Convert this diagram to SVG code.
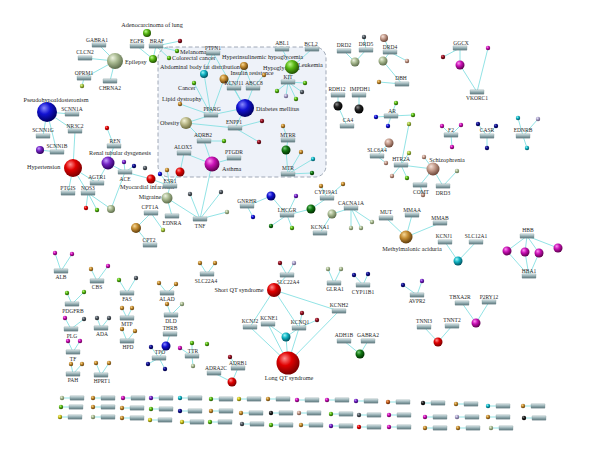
<svg xmlns="http://www.w3.org/2000/svg" xmlns:xlink="http://www.w3.org/1999/xlink" width="600" height="460" viewBox="0 0 600 460">
<style>
.l{stroke:#86e0e2;stroke-width:.9;fill:none}
.t{font-family:"Liberation Serif","Times New Roman",serif;font-size:5.5px;fill:#262626;text-anchor:middle}
.d{font-size:6.2px}
.s{text-anchor:start}
.red{fill:url(#gRed)}.blue{fill:url(#gBlue)}.navy{fill:url(#gNavy)}.green{fill:url(#gGreen)}.sage{fill:url(#gSage)}.olive{fill:url(#gOlive)}.tan{fill:url(#gTan)}.mag{fill:url(#gMag)}.pur{fill:url(#gPur)}.cyan{fill:url(#gCyan)}.dg{fill:url(#gDg)}.blk{fill:url(#gBlk)}.dr{fill:url(#gDr)}.lav{fill:url(#gLav)}.rosy{fill:url(#gRosy)}.yel{fill:url(#gYel)}.dkg{fill:url(#gDkg)}.yg{fill:url(#gYg)}.org{fill:url(#gOrg)}
</style>
<defs>
<linearGradient id="gb" x1="0" y1="0" x2="0" y2="1"><stop offset="0" stop-color="#dce8ea"/><stop offset=".5" stop-color="#92abb0"/><stop offset="1" stop-color="#5e797e"/></linearGradient>
<rect id="b" x="-7" y="-2.2" width="14" height="4.4" rx=".5" fill="url(#gb)" stroke="#6d878b" stroke-width=".3"/>
<radialGradient id="gRed" cx=".4" cy=".35" r=".65" fx=".35" fy=".3"><stop offset="0" stop-color="#ff9090"/><stop offset=".45" stop-color="#e00000"/><stop offset="1" stop-color="#7a0000"/></radialGradient>
<radialGradient id="gBlue" cx=".4" cy=".35" r=".65" fx=".35" fy=".3"><stop offset="0" stop-color="#8a8aff"/><stop offset=".45" stop-color="#1212d2"/><stop offset="1" stop-color="#000060"/></radialGradient>
<radialGradient id="gNavy" cx=".4" cy=".35" r=".65" fx=".35" fy=".3"><stop offset="0" stop-color="#6a6acc"/><stop offset=".45" stop-color="#10108e"/><stop offset="1" stop-color="#000040"/></radialGradient>
<radialGradient id="gGreen" cx=".4" cy=".35" r=".65" fx=".35" fy=".3"><stop offset="0" stop-color="#c0f890"/><stop offset=".45" stop-color="#58b814"/><stop offset="1" stop-color="#205000"/></radialGradient>
<radialGradient id="gSage" cx=".4" cy=".35" r=".65" fx=".35" fy=".3"><stop offset="0" stop-color="#eef4e2"/><stop offset=".45" stop-color="#aabb92"/><stop offset="1" stop-color="#5e6e4c"/></radialGradient>
<radialGradient id="gOlive" cx=".4" cy=".35" r=".65" fx=".35" fy=".3"><stop offset="0" stop-color="#f6f4d8"/><stop offset=".45" stop-color="#bcba8a"/><stop offset="1" stop-color="#6e6c3e"/></radialGradient>
<radialGradient id="gTan" cx=".4" cy=".35" r=".65" fx=".35" fy=".3"><stop offset="0" stop-color="#f6d898"/><stop offset=".45" stop-color="#c48c30"/><stop offset="1" stop-color="#5e3c0c"/></radialGradient>
<radialGradient id="gMag" cx=".4" cy=".35" r=".65" fx=".35" fy=".3"><stop offset="0" stop-color="#ff90f2"/><stop offset=".45" stop-color="#c810b4"/><stop offset="1" stop-color="#5e004e"/></radialGradient>
<radialGradient id="gPur" cx=".4" cy=".35" r=".65" fx=".35" fy=".3"><stop offset="0" stop-color="#c8a0ff"/><stop offset=".45" stop-color="#7424c4"/><stop offset="1" stop-color="#2e005e"/></radialGradient>
<radialGradient id="gCyan" cx=".4" cy=".35" r=".65" fx=".35" fy=".3"><stop offset="0" stop-color="#a0f6f6"/><stop offset=".45" stop-color="#12b4c4"/><stop offset="1" stop-color="#00505e"/></radialGradient>
<radialGradient id="gDg" cx=".4" cy=".35" r=".65" fx=".35" fy=".3"><stop offset="0" stop-color="#b0b8c0"/><stop offset=".45" stop-color="#545c64"/><stop offset="1" stop-color="#1e2226"/></radialGradient>
<radialGradient id="gBlk" cx=".4" cy=".35" r=".65" fx=".35" fy=".3"><stop offset="0" stop-color="#909090"/><stop offset=".45" stop-color="#222"/><stop offset="1" stop-color="#000"/></radialGradient>
<radialGradient id="gDr" cx=".4" cy=".35" r=".65" fx=".35" fy=".3"><stop offset="0" stop-color="#d87080"/><stop offset=".45" stop-color="#961424"/><stop offset="1" stop-color="#3e0008"/></radialGradient>
<radialGradient id="gLav" cx=".4" cy=".35" r=".65" fx=".35" fy=".3"><stop offset="0" stop-color="#f0ecfa"/><stop offset=".45" stop-color="#aca4cc"/><stop offset="1" stop-color="#5c5478"/></radialGradient>
<radialGradient id="gRosy" cx=".4" cy=".35" r=".65" fx=".35" fy=".3"><stop offset="0" stop-color="#f6e2da"/><stop offset=".45" stop-color="#c49c8c"/><stop offset="1" stop-color="#6c4638"/></radialGradient>
<radialGradient id="gYel" cx=".4" cy=".35" r=".65" fx=".35" fy=".3"><stop offset="0" stop-color="#fcf490"/><stop offset=".45" stop-color="#ccc420"/><stop offset="1" stop-color="#5e5a00"/></radialGradient>
<radialGradient id="gDkg" cx=".4" cy=".35" r=".65" fx=".35" fy=".3"><stop offset="0" stop-color="#7ccc7c"/><stop offset=".45" stop-color="#127612"/><stop offset="1" stop-color="#002e00"/></radialGradient>
<radialGradient id="gYg" cx=".4" cy=".35" r=".65" fx=".35" fy=".3"><stop offset="0" stop-color="#e6f4a0"/><stop offset=".45" stop-color="#a4c444"/><stop offset="1" stop-color="#4e600e"/></radialGradient>
<radialGradient id="gOrg" cx=".4" cy=".35" r=".65" fx=".35" fy=".3"><stop offset="0" stop-color="#f4ac70"/><stop offset=".45" stop-color="#c46424"/><stop offset="1" stop-color="#5e2000"/></radialGradient>
</defs>
<rect width="600" height="460" fill="#fff"/>
<rect id="module" x="158" y="47" width="168" height="130" rx="11" fill="#eef2f9" stroke="#8a96a6" stroke-width=".8" stroke-dasharray="4 2.5"/>

<g id="connectors" class="l">
<path d="M115 61L99 45M115 61L85 58M115 61L84 78M115 61L110 81M84 78L82 86"/>
<path d="M137 46L153 59M156 46L153 59M156 46L180 41M156 46L177 51M156 46L169 58"/>
<path d="M211 115L204 74M211 115L194 83M211 115L180 104M211 115L186 123M211 115L245 108M211 115L224 79M213 53L204 74M213 53L245 108"/>
<path d="M234 88L244 66M234 88L245 108M234 88L224 79M253 88L244 66M253 88L245 108M253 88L264 75"/>
<path d="M292 67L282 49M292 67L312 49M292 67L288 82M288 82L305 83M288 82L302 92M288 82L296 99M288 82L286 96M288 82L277 91"/>
<path d="M235 128L245 108M235 128L186 123M235 128L262 121M235 128L259 142M204 141L186 123M204 141L212 164M204 141L224 141M234 158L212 164M184 153L212 164M184 153L180 172"/>
<path d="M288 140L283 126M288 140L286 150M288 174L286 150M288 174L301 152M288 174L313 159M288 174L312 173"/>
<path d="M212 164L200 219"/>
<path d="M47 112L71 114M47 112L43 136M47 112L57 152M47 112L75 131M57 152L40 150M75 131L73 168M73 168L68 193M73 168L88 193M73 168L97 183M97 183L108 163M114 146L108 163M114 146L107 128"/>
<path d="M125 172L108 163M125 172L111 209M125 172L151 179M125 172L124 162M125 172L134 166M88 193L86 208M88 193L97 210M88 193L111 209"/>
<path d="M170 186L151 179M170 186L160 174M170 186L167 170M170 186L180 172M170 186L167 198M167 198L200 219M167 198L172 216M200 219L190 194M200 219L221 192M200 219L227 212M151 213L136 228M151 213L163 230M150 245L136 228"/>
<path d="M247 206L271 196M247 206L253 217M287 215L271 196M287 215L296 196M287 215L311 209M287 215L271 226M287 215L292 228M327 198L311 209M327 198L321 186M327 198L343 184"/>
<path d="M351 208L332 214M351 208L372 222M351 208L351 228M351 208L361 228M320 233L332 214M386 218L406 237M412 215L406 237M440 223L406 237M445 242L458 261M476 242L458 261"/>
<path d="M527 236L507 251M527 236L525 252M527 236L539 253M527 236L558 248M529 276L507 251M529 276L525 252M529 276L539 253"/>
<path d="M417 295L403 285M417 295L422 281M462 303L476 323M489 302L476 323M424 327L438 342M452 326L438 342"/>
<path d="M344 51L355 62M366 50L355 62M366 50L364 37M390 52L384 38M390 52L383 61M390 52L407 61M402 84L383 61M402 84L379 82M338 95L338 106M359 95L359 109M347 126L338 106M391 116L396 103M391 116L376 117M391 116L388 126M391 116L413 115"/>
<path d="M377 156L389 143M377 156L386 163M401 165L409 153M401 165L409 124M401 165L392 176M401 165L407 178M401 165L433 169M433 169L420 185M433 169L443 186M433 169L424 157M443 186L457 171M420 185L423 195"/>
<path d="M451 135L442 126M451 135L461 125M451 135L452 147M487 136L478 124M487 136L496 126M487 136L487 148M523 136L518 118M523 136L538 119M523 136L527 148"/>
<path d="M460 48L443 57M460 48L460 65M477 92L460 65M477 92L488 48"/>
<path d="M61 271L55 253M61 271L72 254M97 281L91 269M97 281L108 266M127 293L119 280M127 293L136 278M167 293L159 283M167 293L176 284M72 304L67 293M72 304L84 292M127 318L122 308M127 318L132 308M171 315L167 304M171 315L182 304M101 328L97 318M101 328L109 318M71 329L65 318M71 329L84 319M127 341L122 329M127 341L135 331M73 352L68 341M73 352L80 341M73 374L71 364M73 374L82 364M101 375L96 363M101 375L109 363"/>
<path d="M170 334L166 346M159 358L166 346M159 358L151 347M159 358L148 364M159 358L165 369M192 356L180 348M192 356L193 366M192 356L192 343"/>
<path d="M207 274L200 263M207 274L215 263M287 275L280 263M287 275L294 263M287 275L274 290M274 290L250 327M274 290L299 328M274 290L339 311M334 283L328 269M334 283L341 269M363 285L354 275M363 285L368 274M299 328L302 313M299 328L317 320"/>
<path d="M288 363L250 327M288 363L268 324M288 363L299 328M288 363L339 311M288 363L286 337M268 324L286 337M299 328L286 337M344 341L360 354M368 341L360 354M214 373L232 382M238 368L232 382M238 368L230 357"/>
<path d="M62 398H77M93 398H108M123 398H138M151 398H166M180 398H195M211 399H226M239 399H254M268 399H283M297 400H312M327 400H342M356 401H371M388 402H403M423 403H438M456 404H471M488 406H503M523 406H538"/>
<path d="M61 407H76M93 407H108M122 408H137M151 409H166M180 411H195M211 411H226M241 413H256M271 413H286M299 413H314M331 414H346M359 415H374M389 415H404M425 417H440M457 417H472M488 417H503M524 418H539"/>
<path d="M60 417H75M93 417H108M122 418H137M150 420H165M182 422H197M210 422H225M242 424H257M271 425H286M301 425H316M331 426H346M359 427H374M389 427H404M425 428H440M458 428H473M491 428H506"/>
</g>

<g id="diseases">
<g id="n-adeno"><circle class="green" cx="147" cy="33" r="4"/><text class="t d" x="152" y="27">Adenocarcinoma of lung</text></g>
<g id="n-melanoma"><circle class="green" cx="177" cy="51" r="2.2"/><text class="t d s" x="180" y="54">Melanoma</text></g>
<g id="n-colorectal"><circle class="green" cx="169" cy="58" r="2.2"/><text class="t d s" x="172" y="60">Colorectal cancer</text></g>
<g id="n-epilepsy"><circle class="sage" cx="115" cy="61" r="8"/><text class="t d s" x="125" y="64">Epilepsy</text></g>
<g id="n-egfrdis"><circle class="green" cx="153" cy="59" r="4"/></g>
<g id="n-abdominal"><circle class="cyan" cx="204" cy="74" r="4"/><text class="t d s" x="160" y="69">Abdominal body fat distribution</text></g>
<g id="n-hyperins"><circle class="tan" cx="244" cy="66" r="4"/><text class="t d s" x="222" y="59">Hyperinsulinemic hypoglycemia</text></g>
<g id="n-insres"><circle class="tan" cx="224" cy="79" r="4.5"/><text class="t d" x="252" y="75">Insulin resistance</text></g>
<g id="n-hypogly"><circle class="tan" cx="264" cy="75" r="2.2"/><text class="t d s" x="263" y="70">Hypoglycemia</text></g>
<g id="n-leukemia"><circle class="green" cx="292" cy="67" r="7"/><text class="t d s" x="298" y="67">Leukemia</text></g>
<g id="n-cancer"><circle class="green" cx="194" cy="83" r="2.2"/><text class="t d s" x="178" y="90">Cancer</text></g>
<g id="n-lipid"><circle class="tan" cx="180" cy="104" r="2.2"/><text class="t d s" x="162" y="101">Lipid dystrophy</text></g>
<g id="n-obesity"><circle class="olive" cx="186" cy="123" r="6"/><text class="t d s" x="160" y="125">Obesity</text></g>
<g id="n-diabetes"><circle class="blue" cx="245" cy="108" r="9"/><text class="t d s" x="256" y="111">Diabetes mellitus</text></g>
<g id="n-asthma"><circle class="mag" cx="212" cy="164" r="7.5"/><text class="t d s" x="222" y="171">Asthma</text></g>
<g id="n-pseudo"><circle class="blue" cx="47" cy="112" r="10"/><text class="t d" x="56" y="102">Pseudohypoaldosteronism</text></g>
<g id="n-hypertension"><circle class="red" cx="73" cy="168" r="9"/><text class="t d s" x="27" y="169">Hypertension</text></g>
<g id="n-renal"><circle class="pur" cx="108" cy="163" r="6.5"/><text class="t d" x="120" y="155">Renal tubular dysgenesis</text></g>
<g id="n-mi"><circle class="red" cx="151" cy="179" r="4.5"/><text class="t d" x="147" y="189">Myocardial infarction</text></g>
<g id="n-migraine"><circle class="sage" cx="167" cy="198" r="5.5"/><text class="t d" x="150" y="199">Migraine</text></g>
<g id="n-schizo"><circle class="rosy" cx="433" cy="169" r="6.5"/><text class="t d" x="447" y="162">Schizophrenia</text></g>
<g id="n-mma"><circle class="tan" cx="406" cy="237" r="6.5"/><text class="t d" x="412" y="251">Methylmalonic aciduria</text></g>
<g id="n-sqt"><circle class="red" cx="274" cy="290" r="7"/><text class="t d" x="239" y="292">Short QT syndrome</text></g>
<g id="n-lqt"><circle class="red" cx="288" cy="363" r="11.5"/><text class="t d" x="289" y="380">Long QT syndrome</text></g>
</g>

<g id="spheres">
<circle id="s1" class="tan" cx="136" cy="228" r="5"/>
<circle id="s2" class="sage" cx="111" cy="209" r="4"/>
<circle id="s3" class="dkg" cx="286" cy="150" r="4.5"/>
<circle id="s4" class="blue" cx="271" cy="196" r="4.5"/>
<circle id="s5" class="dkg" cx="311" cy="209" r="4.5"/>
<circle id="s6" class="sage" cx="332" cy="214" r="4.5"/>
<circle id="s7" class="sage" cx="355" cy="62" r="4.5"/>
<circle id="s8" class="sage" cx="383" cy="61" r="4.5"/>
<circle id="s9" class="rosy" cx="384" cy="38" r="4"/>
<circle id="s10" class="blk" cx="338" cy="106" r="4.5"/>
<circle id="s11" class="blk" cx="359" cy="109" r="4.5"/>
<circle id="s12" class="rosy" cx="389" cy="143" r="4.5"/>
<circle id="s13" class="mag" cx="460" cy="65" r="4.5"/>
<circle id="s14" class="cyan" cx="458" cy="261" r="4.5"/>
<circle id="s15" class="mag" cx="507" cy="251" r="4.5"/>
<circle id="s16" class="mag" cx="525" cy="252" r="4.5"/>
<circle id="s17" class="mag" cx="539" cy="253" r="4.5"/>
<circle id="s18" class="mag" cx="558" cy="248" r="4.5"/>
<circle id="s19" class="mag" cx="476" cy="323" r="4.5"/>
<circle id="s20" class="red" cx="438" cy="342" r="4.5"/>
<circle id="s21" class="red" cx="180" cy="172" r="4.5"/>
<circle id="s22" class="red" cx="232" cy="382" r="4.5"/>
<circle id="s23" class="cyan" cx="286" cy="337" r="4.5"/>
<circle id="s24" class="dkg" cx="360" cy="354" r="4.5"/>
<circle id="s25" class="blue" cx="166" cy="346" r="4.5"/>
<circle id="s26" class="pur" cx="40" cy="150" r="4"/>
</g>

<g id="dots">
<circle class="dr" cx="180" cy="41" r="2.2"/>
<circle class="yg" cx="82" cy="86" r="2.2"/>
<circle class="green" cx="305" cy="83" r="2.2"/><circle class="dg" cx="302" cy="92" r="2.2"/><circle class="green" cx="296" cy="99" r="2.2"/><circle class="lav" cx="286" cy="96" r="2.2"/><circle class="green" cx="277" cy="91" r="2.2"/>
<circle class="dr" cx="262" cy="121" r="2.2"/><circle class="dr" cx="259" cy="142" r="2.2"/><circle class="green" cx="224" cy="141" r="2.2"/>
<circle class="tan" cx="283" cy="126" r="2.2"/><circle class="tan" cx="301" cy="152" r="2.2"/><circle class="cyan" cx="313" cy="159" r="2.2"/><circle class="dkg" cx="312" cy="173" r="2.2"/>
<circle class="red" cx="107" cy="128" r="2.2"/><circle class="pur" cx="124" cy="162" r="2.2"/><circle class="navy" cx="134" cy="166" r="2.2"/><circle class="dg" cx="145" cy="168" r="2.2"/>
<circle class="red" cx="86" cy="208" r="2.2"/><circle class="green" cx="97" cy="210" r="2.2"/>
<circle class="blue" cx="160" cy="174" r="2.2"/><circle class="tan" cx="167" cy="170" r="2.2"/>
<circle class="dg" cx="190" cy="194" r="2.2"/><circle class="dg" cx="221" cy="192" r="2.2"/><circle class="sage" cx="227" cy="212" r="2.2"/><circle class="yg" cx="163" cy="230" r="2.2"/>
<circle class="blue" cx="253" cy="217" r="2.2"/><circle class="pur" cx="296" cy="196" r="2.2"/><circle class="dkg" cx="271" cy="226" r="2.2"/><circle class="green" cx="292" cy="228" r="2.2"/>
<circle class="tan" cx="321" cy="186" r="2.2"/><circle class="tan" cx="343" cy="184" r="2.2"/>
<circle class="sage" cx="372" cy="222" r="2.2"/><circle class="sage" cx="351" cy="228" r="2.2"/><circle class="sage" cx="361" cy="228" r="2.2"/>
<circle class="dg" cx="364" cy="37" r="2.2"/><circle class="rosy" cx="407" cy="61" r="2.2"/><circle class="tan" cx="379" cy="82" r="2.2"/>
<circle class="green" cx="396" cy="103" r="2.2"/><circle class="blue" cx="376" cy="117" r="2.2"/><circle class="blue" cx="388" cy="126" r="2.2"/><circle class="green" cx="413" cy="115" r="2.2"/>
<circle class="rosy" cx="386" cy="163" r="2.2"/><circle class="yg" cx="409" cy="153" r="2.2"/><circle class="yg" cx="409" cy="124" r="2.2"/><circle class="rosy" cx="392" cy="176" r="2.2"/><circle class="green" cx="407" cy="178" r="2.2"/><circle class="rosy" cx="424" cy="157" r="2.2"/><circle class="sage" cx="457" cy="171" r="2.2"/><circle class="rosy" cx="423" cy="195" r="2.2"/>
<circle class="mag" cx="442" cy="126" r="2.2"/><circle class="mag" cx="461" cy="125" r="2.2"/><circle class="mag" cx="452" cy="147" r="2.2"/>
<circle class="navy" cx="478" cy="124" r="2.2"/><circle class="navy" cx="496" cy="126" r="2.2"/><circle class="navy" cx="487" cy="148" r="2.2"/>
<circle class="cyan" cx="518" cy="118" r="2.2"/><circle class="lav" cx="538" cy="119" r="2.2"/><circle class="cyan" cx="527" cy="148" r="2.2"/>
<circle class="dr" cx="443" cy="57" r="2.2"/><circle class="mag" cx="488" cy="48" r="2.2"/>
<circle class="navy" cx="403" cy="285" r="2.2"/><circle class="pur" cx="422" cy="281" r="2.2"/>
<circle class="mag" cx="55" cy="253" r="2.2"/><circle class="mag" cx="72" cy="254" r="2.2"/>
<circle class="tan" cx="91" cy="269" r="2.2"/><circle class="mag" cx="108" cy="266" r="2.2"/>
<circle class="green" cx="119" cy="280" r="2.2"/><circle class="dg" cx="136" cy="278" r="2.2"/>
<circle class="tan" cx="159" cy="283" r="2.2"/><circle class="tan" cx="176" cy="284" r="2.2"/>
<circle class="green" cx="67" cy="293" r="2.2"/><circle class="green" cx="84" cy="292" r="2.2"/>
<circle class="tan" cx="122" cy="308" r="2.2"/><circle class="tan" cx="132" cy="308" r="2.2"/>
<circle class="tan" cx="167" cy="304" r="2.2"/><circle class="sage" cx="182" cy="304" r="2.2"/>
<circle class="dg" cx="97" cy="318" r="2.2"/><circle class="dg" cx="109" cy="318" r="2.2"/>
<circle class="mag" cx="65" cy="318" r="2.2"/><circle class="dg" cx="84" cy="319" r="2.2"/>
<circle class="tan" cx="122" cy="329" r="2.2"/><circle class="tan" cx="135" cy="331" r="2.2"/>
<circle class="mag" cx="68" cy="341" r="2.2"/><circle class="mag" cx="80" cy="341" r="2.2"/>
<circle class="tan" cx="71" cy="364" r="2.2"/><circle class="tan" cx="82" cy="364" r="2.2"/>
<circle class="tan" cx="96" cy="363" r="2.2"/><circle class="tan" cx="109" cy="363" r="2.2"/>
<circle class="navy" cx="151" cy="347" r="2.2"/><circle class="navy" cx="148" cy="364" r="2.2"/><circle class="navy" cx="165" cy="369" r="2.2"/>
<circle class="mag" cx="180" cy="348" r="2.2"/><circle class="sage" cx="193" cy="366" r="2.2"/><circle class="green" cx="192" cy="343" r="2.2"/><circle class="green" cx="207" cy="344" r="2.2"/>
<circle class="tan" cx="200" cy="263" r="2.2"/><circle class="tan" cx="215" cy="263" r="2.2"/>
<circle class="dr" cx="280" cy="263" r="2.2"/><circle class="lav" cx="294" cy="263" r="2.2"/>
<circle class="sage" cx="328" cy="269" r="2.2"/><circle class="sage" cx="341" cy="269" r="2.2"/>
<circle class="navy" cx="354" cy="275" r="2.2"/><circle class="navy" cx="368" cy="274" r="2.2"/>
<circle class="dr" cx="302" cy="313" r="2.2"/><circle class="dr" cx="317" cy="320" r="2.2"/>
<circle class="dr" cx="230" cy="357" r="2.2"/>
</g>

<g id="genes">
<g id="g-GABRA1"><use href="#b" x="99" y="45"/><text class="t" x="97" y="41.5">GABRA1</text></g>
<g id="g-CLCN2"><use href="#b" x="85" y="58"/><text class="t" x="85" y="54">CLCN2</text></g>
<g id="g-OPRM1"><use href="#b" x="84" y="78"/><text class="t" x="84" y="75">OPRM1</text></g>
<g id="g-CHRNA2"><use href="#b" x="110" y="81"/><text class="t" x="110" y="90">CHRNA2</text></g>
<g id="g-EGFR"><use href="#b" x="137" y="46"/><text class="t" x="137" y="42.5">EGFR</text></g>
<g id="g-BRAF"><use href="#b" x="156" y="46"/><text class="t" x="157" y="42.5">BRAF</text></g>
<g id="g-SCNN1A"><use href="#b" x="72" y="114"/><text class="t" x="72" y="110.5">SCNN1A</text></g>
<g id="g-NR3C2"><use href="#b" x="75" y="131"/><text class="t" x="75" y="127.5">NR3C2</text></g>
<g id="g-SCNN1G"><use href="#b" x="43" y="136"/><text class="t" x="43" y="132">SCNN1G</text></g>
<g id="g-SCNN1B"><use href="#b" x="57" y="152"/><text class="t" x="57" y="148">SCNN1B</text></g>
<g id="g-PTGIS"><use href="#b" x="68" y="193"/><text class="t" x="68" y="189.5">PTGIS</text></g>
<g id="g-NOS3"><use href="#b" x="88" y="193"/><text class="t" x="88" y="189.5">NOS3</text></g>
<g id="g-AGTR1"><use href="#b" x="97" y="183"/><text class="t" x="97" y="179">AGTR1</text></g>
<g id="g-REN"><use href="#b" x="114" y="146"/><text class="t" x="115" y="142.5">REN</text></g>
<g id="g-ACE"><use href="#b" x="125" y="172"/><text class="t" x="125" y="180.5">ACE</text></g>
<g id="g-ESR1"><use href="#b" x="170" y="186"/><text class="t" x="170" y="182.5">ESR1</text></g>
<g id="g-ALOX5"><use href="#b" x="184" y="153"/><text class="t" x="183" y="149">ALOX5</text></g>
<g id="g-CPT1A"><use href="#b" x="151" y="213"/><text class="t" x="150" y="209">CPT1A</text></g>
<g id="g-EDNRA"><use href="#b" x="172" y="216"/><text class="t" x="172" y="225">EDNRA</text></g>
<g id="g-CPT2"><use href="#b" x="150" y="245"/><text class="t" x="149" y="241.5">CPT2</text></g>
<g id="g-TNF"><use href="#b" x="200" y="219"/><text class="t" x="200" y="227.5">TNF</text></g>
<g id="g-PTPN1"><use href="#b" x="213" y="53"/><text class="t" x="213" y="49.5">PTPN1</text></g>
<g id="g-KCNJ11"><use href="#b" x="234" y="88"/><text class="t" x="234" y="84.5">KCNJ11</text></g>
<g id="g-ABCC8"><use href="#b" x="253" y="88"/><text class="t" x="254" y="84.5">ABCC8</text></g>
<g id="g-ABL1"><use href="#b" x="282" y="49"/><text class="t" x="282" y="45">ABL1</text></g>
<g id="g-BCL2"><use href="#b" x="312" y="49"/><text class="t" x="311" y="45.5">BCL2</text></g>
<g id="g-KIT"><use href="#b" x="288" y="82"/><text class="t" x="288" y="78.5">KIT</text></g>
<g id="g-PPARG"><use href="#b" x="211" y="115"/><text class="t" x="212" y="111">PPARG</text></g>
<g id="g-ENPP1"><use href="#b" x="235" y="128"/><text class="t" x="234" y="124">ENPP1</text></g>
<g id="g-ADRB2"><use href="#b" x="204" y="141"/><text class="t" x="203" y="137">ADRB2</text></g>
<g id="g-PTGDR"><use href="#b" x="234" y="158"/><text class="t" x="234" y="154">PTGDR</text></g>
<g id="g-MTRR"><use href="#b" x="288" y="140"/><text class="t" x="288" y="136.5">MTRR</text></g>
<g id="g-MTR"><use href="#b" x="288" y="174"/><text class="t" x="288" y="170">MTR</text></g>
<g id="g-GNRHR"><use href="#b" x="247" y="206"/><text class="t" x="247" y="202.5">GNRHR</text></g>
<g id="g-LHCGR"><use href="#b" x="287" y="215"/><text class="t" x="287" y="211.5">LHCGR</text></g>
<g id="g-CYP19A1"><use href="#b" x="327" y="198"/><text class="t" x="326" y="194">CYP19A1</text></g>
<g id="g-CACNA1A"><use href="#b" x="351" y="208"/><text class="t" x="351" y="204.5">CACNA1A</text></g>
<g id="g-KCNA1"><use href="#b" x="320" y="233"/><text class="t" x="320" y="229">KCNA1</text></g>
<g id="g-MUT"><use href="#b" x="386" y="218"/><text class="t" x="386" y="214">MUT</text></g>
<g id="g-CA4"><use href="#b" x="347" y="126"/><text class="t" x="348" y="122">CA4</text></g>
<g id="g-SLC6A4"><use href="#b" x="377" y="156"/><text class="t" x="377" y="151.5">SLC6A4</text></g>
<g id="g-HTR2A"><use href="#b" x="401" y="165"/><text class="t" x="401" y="161">HTR2A</text></g>
<g id="g-COMT"><use href="#b" x="420" y="185"/><text class="t" x="421" y="193.5">COMT</text></g>
<g id="g-DRD3"><use href="#b" x="443" y="186"/><text class="t" x="443" y="194.5">DRD3</text></g>
<g id="g-F2"><use href="#b" x="451" y="135"/><text class="t" x="451" y="131.5">F2</text></g>
<g id="g-CASR"><use href="#b" x="487" y="136"/><text class="t" x="487" y="132">CASR</text></g>
<g id="g-EDNRB"><use href="#b" x="523" y="136"/><text class="t" x="523" y="132">EDNRB</text></g>
<g id="g-MMAA"><use href="#b" x="412" y="215"/><text class="t" x="412" y="211.5">MMAA</text></g>
<g id="g-MMAB"><use href="#b" x="440" y="223"/><text class="t" x="440" y="219.5">MMAB</text></g>
<g id="g-GGCX"><use href="#b" x="460" y="48"/><text class="t" x="461" y="44.5">GGCX</text></g>
<g id="g-VKORC1"><use href="#b" x="477" y="92"/><text class="t" x="477" y="100">VKORC1</text></g>
<g id="g-DRD2"><use href="#b" x="344" y="51"/><text class="t" x="344" y="47">DRD2</text></g>
<g id="g-DRD5"><use href="#b" x="366" y="50"/><text class="t" x="366" y="46">DRD5</text></g>
<g id="g-DRD4"><use href="#b" x="390" y="52"/><text class="t" x="390" y="48.5">DRD4</text></g>
<g id="g-DBH"><use href="#b" x="402" y="84"/><text class="t" x="401" y="80">DBH</text></g>
<g id="g-RDH12"><use href="#b" x="338" y="95"/><text class="t" x="337" y="91">RDH12</text></g>
<g id="g-IMPDH1"><use href="#b" x="359" y="95"/><text class="t" x="360" y="91">IMPDH1</text></g>
<g id="g-AR"><use href="#b" x="391" y="116"/><text class="t" x="392" y="112.5">AR</text></g>
<g id="g-ALB"><use href="#b" x="61" y="271"/><text class="t" x="61" y="279">ALB</text></g>
<g id="g-CBS"><use href="#b" x="97" y="281"/><text class="t" x="97" y="289">CBS</text></g>
<g id="g-FAS"><use href="#b" x="127" y="293"/><text class="t" x="127" y="301">FAS</text></g>
<g id="g-ALAD"><use href="#b" x="167" y="293"/><text class="t" x="167" y="301">ALAD</text></g>
<g id="g-PDGFRB"><use href="#b" x="72" y="304"/><text class="t" x="73" y="313">PDGFRB</text></g>
<g id="g-MTP"><use href="#b" x="127" y="318"/><text class="t" x="127" y="326">MTP</text></g>
<g id="g-DLD"><use href="#b" x="171" y="315"/><text class="t" x="171" y="323">DLD</text></g>
<g id="g-THRB"><use href="#b" x="170" y="334"/><text class="t" x="170" y="330">THRB</text></g>
<g id="g-ADA"><use href="#b" x="101" y="328"/><text class="t" x="102" y="336">ADA</text></g>
<g id="g-PLG"><use href="#b" x="71" y="329"/><text class="t" x="72" y="338">PLG</text></g>
<g id="g-HPD"><use href="#b" x="127" y="341"/><text class="t" x="128" y="349">HPD</text></g>
<g id="g-TF"><use href="#b" x="73" y="352"/><text class="t" x="73" y="361">TF</text></g>
<g id="g-PAH"><use href="#b" x="73" y="374"/><text class="t" x="73" y="382">PAH</text></g>
<g id="g-HPRT1"><use href="#b" x="101" y="375"/><text class="t" x="102" y="383">HPRT1</text></g>
<g id="g-TPO"><use href="#b" x="159" y="358"/><text class="t" x="160" y="354">TPO</text></g>
<g id="g-TTR"><use href="#b" x="192" y="356"/><text class="t" x="193" y="353">TTR</text></g>
<g id="g-SLC22A4a"><use href="#b" x="207" y="274"/><text class="t" x="206" y="283">SLC22A4</text></g>
<g id="g-SLC22A4b"><use href="#b" x="287" y="275"/><text class="t" x="288" y="284">SLC22A4</text></g>
<g id="g-GLRA1"><use href="#b" x="334" y="283"/><text class="t" x="335" y="291">GLRA1</text></g>
<g id="g-CYP11B1"><use href="#b" x="363" y="285"/><text class="t" x="363" y="294">CYP11B1</text></g>
<g id="g-KCNH2"><use href="#b" x="339" y="311"/><text class="t" x="339" y="307">KCNH2</text></g>
<g id="g-KCNJ2"><use href="#b" x="250" y="327"/><text class="t" x="250" y="323">KCNJ2</text></g>
<g id="g-KCNE1"><use href="#b" x="268" y="324"/><text class="t" x="269" y="320">KCNE1</text></g>
<g id="g-KCNQ1"><use href="#b" x="299" y="328"/><text class="t" x="300" y="324">KCNQ1</text></g>
<g id="g-ADH1B"><use href="#b" x="344" y="341"/><text class="t" x="344" y="337">ADH1B</text></g>
<g id="g-GABRA2"><use href="#b" x="368" y="341"/><text class="t" x="368" y="337">GABRA2</text></g>
<g id="g-ADRA2C"><use href="#b" x="214" y="373"/><text class="t" x="216" y="370">ADRA2C</text></g>
<g id="g-ADRB1"><use href="#b" x="238" y="368"/><text class="t" x="238" y="365">ADRB1</text></g>
<g id="g-KCNJ1"><use href="#b" x="445" y="242"/><text class="t" x="444" y="238">KCNJ1</text></g>
<g id="g-SLC12A1"><use href="#b" x="476" y="242"/><text class="t" x="476" y="238">SLC12A1</text></g>
<g id="g-HBB"><use href="#b" x="527" y="236"/><text class="t" x="528" y="232">HBB</text></g>
<g id="g-HBA1"><use href="#b" x="529" y="276"/><text class="t" x="529" y="273">HBA1</text></g>
<g id="g-AVPR2"><use href="#b" x="417" y="295"/><text class="t" x="417" y="303">AVPR2</text></g>
<g id="g-TBXA2R"><use href="#b" x="462" y="303"/><text class="t" x="460" y="299">TBXA2R</text></g>
<g id="g-P2RY12"><use href="#b" x="489" y="302"/><text class="t" x="489" y="299">P2RY12</text></g>
<g id="g-TNNI3"><use href="#b" x="424" y="327"/><text class="t" x="424" y="323">TNNI3</text></g>
<g id="g-TNNT2"><use href="#b" x="452" y="326"/><text class="t" x="452" y="321.5">TNNT2</text></g>
</g>

<g id="pairs">
<g id="p1"><circle class="sage" cx="62" cy="398" r="2.2"/><use href="#b" x="77" y="398"/><circle class="green" cx="61" cy="407" r="2.2"/><use href="#b" x="76" y="407"/><circle class="yel" cx="60" cy="417" r="2.2"/><use href="#b" x="75" y="417"/></g>
<g id="p2"><circle class="tan" cx="93" cy="398" r="2.2"/><use href="#b" x="108" y="398"/><circle class="tan" cx="93" cy="407" r="2.2"/><use href="#b" x="108" y="407"/><circle class="sage" cx="93" cy="417" r="2.2"/><use href="#b" x="108" y="417"/></g>
<g id="p3"><circle class="mag" cx="123" cy="398" r="2.2"/><use href="#b" x="138" y="398"/><circle class="tan" cx="122" cy="408" r="2.2"/><use href="#b" x="137" y="408"/><circle class="tan" cx="122" cy="418" r="2.2"/><use href="#b" x="137" y="418"/></g>
<g id="p4"><circle class="pur" cx="151" cy="398" r="2.2"/><use href="#b" x="166" y="398"/><circle class="green" cx="151" cy="409" r="2.2"/><use href="#b" x="166" y="409"/><circle class="yel" cx="150" cy="420" r="2.2"/><use href="#b" x="165" y="420"/></g>
<g id="p5"><circle class="cyan" cx="180" cy="398" r="2.2"/><use href="#b" x="195" y="398"/><circle class="navy" cx="180" cy="411" r="2.2"/><use href="#b" x="195" y="411"/><circle class="yel" cx="182" cy="422" r="2.2"/><use href="#b" x="197" y="422"/></g>
<g id="p6"><circle class="green" cx="211" cy="399" r="2.2"/><use href="#b" x="226" y="399"/><circle class="tan" cx="211" cy="411" r="2.2"/><use href="#b" x="226" y="411"/><circle class="green" cx="210" cy="422" r="2.2"/><use href="#b" x="225" y="422"/></g>
<g id="p7"><circle class="yel" cx="239" cy="399" r="2.2"/><use href="#b" x="254" y="399"/><circle class="tan" cx="241" cy="413" r="2.2"/><use href="#b" x="256" y="413"/><circle class="dg" cx="242" cy="424" r="2.2"/><use href="#b" x="257" y="424"/></g>
<g id="p8"><circle class="tan" cx="268" cy="399" r="2.2"/><use href="#b" x="283" y="399"/><circle class="blk" cx="271" cy="413" r="2.2"/><use href="#b" x="286" y="413"/><circle class="green" cx="271" cy="425" r="2.2"/><use href="#b" x="286" y="425"/></g>
<g id="p9"><circle class="mag" cx="297" cy="400" r="2.2"/><use href="#b" x="312" y="400"/><circle class="rosy" cx="299" cy="413" r="2.2"/><use href="#b" x="314" y="413"/><circle class="tan" cx="301" cy="425" r="2.2"/><use href="#b" x="316" y="425"/></g>
<g id="p10"><circle class="mag" cx="327" cy="400" r="2.2"/><use href="#b" x="342" y="400"/><circle class="green" cx="331" cy="414" r="2.2"/><use href="#b" x="346" y="414"/><circle class="pur" cx="331" cy="426" r="2.2"/><use href="#b" x="346" y="426"/></g>
<g id="p11"><circle class="pur" cx="356" cy="401" r="2.2"/><use href="#b" x="371" y="401"/><circle class="dg" cx="359" cy="415" r="2.2"/><use href="#b" x="374" y="415"/><circle class="red" cx="359" cy="427" r="2.2"/><use href="#b" x="374" y="427"/></g>
<g id="p12"><circle class="org" cx="388" cy="402" r="2.2"/><use href="#b" x="403" y="402"/><circle class="mag" cx="389" cy="415" r="2.2"/><use href="#b" x="404" y="415"/><circle class="mag" cx="389" cy="427" r="2.2"/><use href="#b" x="404" y="427"/></g>
<g id="p13"><circle class="blk" cx="423" cy="403" r="2.2"/><use href="#b" x="438" y="403"/><circle class="mag" cx="425" cy="417" r="2.2"/><use href="#b" x="440" y="417"/><circle class="tan" cx="425" cy="428" r="2.2"/><use href="#b" x="440" y="428"/></g>
<g id="p14"><circle class="tan" cx="456" cy="404" r="2.2"/><use href="#b" x="471" y="404"/><circle class="lav" cx="457" cy="417" r="2.2"/><use href="#b" x="472" y="417"/><circle class="tan" cx="458" cy="428" r="2.2"/><use href="#b" x="473" y="428"/></g>
<g id="p15"><circle class="cyan" cx="488" cy="406" r="2.2"/><use href="#b" x="503" y="406"/><circle class="tan" cx="488" cy="417" r="2.2"/><use href="#b" x="503" y="417"/><circle class="sage" cx="491" cy="428" r="2.2"/><use href="#b" x="506" y="428"/></g>
<g id="p16"><circle class="tan" cx="523" cy="406" r="2.2"/><use href="#b" x="538" y="406"/><circle class="blk" cx="524" cy="418" r="2.2"/><use href="#b" x="539" y="418"/></g>
</g>
</svg>
